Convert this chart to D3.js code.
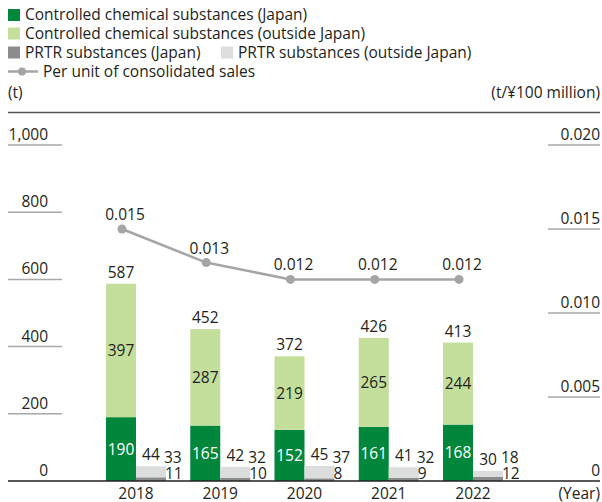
<!DOCTYPE html>
<html>
<head>
<meta charset="utf-8">
<script src="https://cdn.jsdelivr.net/npm/d3@7"></script>
<style>
  html, body { margin: 0; padding: 0; background: #fff; }
  svg { display: block; }
  text { font-family: "Open Sans", "Noto Sans", sans-serif; fill: #231f20; }
</style>
</head>
<body>
<svg id="chart" width="602" height="502"></svg>
<script>
// Fiscal years
const years = ["2018", "2019", "2020", "2021", "2022"];
// Controlled chemical substances (t)
const controlledJapan = [190, 165, 152, 161, 168];
const controlledOutside = [397, 287, 219, 265, 244];
const controlledTotal = [587, 452, 372, 426, 413];
// PRTR substances (t)
const prtrJapan = [11, 10, 8, 9, 12];
const prtrOutside = [33, 32, 37, 32, 18];
const prtrTotal = [44, 42, 45, 41, 30];
// Per unit of consolidated sales (t/¥100 million)
const perUnit = [0.015, 0.013, 0.012, 0.012, 0.012];
// Axis ticks
const leftTicks = [0, 200, 400, 600, 800, 1000];
const rightTicks = [0, 0.005, 0.010, 0.015, 0.020];

const colors = {
  cJapan: "#00873c",
  cOutside: "#c3df9b",
  pJapan: "#8c8c8c",
  pOutside: "#dcdddd",
  line: "#a5a5a5",
  grid: "#a8a8a8"
};

const svg = d3.select("#chart");
const FS = 15.5;

const baseY = 481, topY = 145;
const y = d3.scaleLinear().domain([0, 1000]).range([baseY, topY]);
const y2 = d3.scaleLinear().domain([0, 0.020]).range([baseY, topY]);

const x = d3.scaleBand().domain(years).range([106, 503])
  .paddingInner(0.288).paddingOuter(0);
const sub = d3.scaleBand().domain(["controlled", "prtr"]).range([0, x.bandwidth()]);
const bw = sub.bandwidth();

// Legend
const legend = svg.append("g");
const legendRows = [
  {label: "Controlled chemical substances (Japan)", color: colors.cJapan, x: 8, y: 15},
  {label: "Controlled chemical substances (outside Japan)", color: colors.cOutside, x: 8, y: 33.5},
  {label: "PRTR substances (Japan)", color: colors.pJapan, x: 8, y: 52.5},
  {label: "PRTR substances (outside Japan)", color: colors.pOutside, x: 221, y: 52.5}
];
legendRows.forEach(r => {
  legend.append("rect").attr("x", r.x).attr("y", r.y - 6).attr("width", 12).attr("height", 12)
    .attr("fill", r.color);
  legend.append("text").attr("x", r.x + 17).attr("y", r.y).attr("dy", "0.35em")
    .attr("font-size", FS).text(r.label);
});
legend.append("line").attr("x1", 8).attr("x2", 38).attr("y1", 71.5).attr("y2", 71.5)
  .attr("stroke", colors.line).attr("stroke-width", 2.5);
legend.append("circle").attr("cx", 22).attr("cy", 71.5).attr("r", 4).attr("fill", colors.line);
legend.append("text").attr("x", 43).attr("y", 71.5).attr("dy", "0.35em")
  .attr("font-size", FS).text("Per unit of consolidated sales");

// Units and header rule
svg.append("text").attr("x", 8).attr("y", 98).attr("font-size", FS).text("(t)");
svg.append("text").attr("x", 600).attr("y", 98).attr("font-size", FS)
  .attr("text-anchor", "end").text("(t/¥100 million)");
svg.append("line").attr("x1", 8).attr("x2", 600).attr("y1", 112.5).attr("y2", 112.5)
  .attr("stroke", "#595757").attr("stroke-width", 1.5);

// Left axis
const fmtLeft = d3.format(",");
const la = svg.append("g");
leftTicks.forEach(t => {
  if (t > 0) {
    la.append("line").attr("x1", 8).attr("x2", 62).attr("y1", y(t)).attr("y2", y(t))
      .attr("stroke", colors.grid).attr("stroke-width", 1.5);
  }
  la.append("text").attr("x", 48).attr("y", y(t) - 5).attr("text-anchor", "end")
    .attr("font-size", FS).text(fmtLeft(t));
});

// Right axis
const fmtRight = d3.format(".3f");
const ra = svg.append("g");
rightTicks.forEach(t => {
  if (t > 0) {
    ra.append("line").attr("x1", 548).attr("x2", 600).attr("y1", y2(t)).attr("y2", y2(t))
      .attr("stroke", colors.grid).attr("stroke-width", 1.5);
  }
  ra.append("text").attr("x", 600).attr("y", y2(t) - 5).attr("text-anchor", "end")
    .attr("font-size", FS).text(t === 0 ? "0" : fmtRight(t));
});

// Bars
const bars = svg.append("g");
years.forEach((yr, i) => {
  const gx = x(yr);
  const cx = gx + sub("controlled");
  const px = gx + sub("prtr");

  // Controlled: Japan below, outside Japan stacked above
  const cj = controlledJapan[i], co = controlledOutside[i];
  bars.append("rect").attr("x", cx).attr("width", bw)
    .attr("y", y(cj)).attr("height", y(0) - y(cj)).attr("fill", colors.cJapan);
  bars.append("rect").attr("x", cx).attr("width", bw)
    .attr("y", y(cj + co)).attr("height", y(cj) - y(cj + co)).attr("fill", colors.cOutside);
  bars.append("text").attr("x", cx + bw / 2).attr("y", (y(0) + y(cj)) / 2).attr("dy", "0.35em")
    .attr("text-anchor", "middle").attr("font-size", FS).style("fill", "#fff").text(cj);
  bars.append("text").attr("x", cx + bw / 2).attr("y", (y(cj) + y(cj + co)) / 2).attr("dy", "0.35em")
    .attr("text-anchor", "middle").attr("font-size", FS).text(co);
  bars.append("text").attr("x", cx + bw / 2).attr("y", y(cj + co) - 6)
    .attr("text-anchor", "middle").attr("font-size", FS).text(controlledTotal[i]);

  // PRTR: Japan below, outside Japan stacked above
  const pj = prtrJapan[i], po = prtrOutside[i];
  bars.append("rect").attr("x", px).attr("width", bw)
    .attr("y", y(pj)).attr("height", y(0) - y(pj)).attr("fill", colors.pJapan);
  bars.append("rect").attr("x", px).attr("width", bw)
    .attr("y", y(pj + po)).attr("height", y(pj) - y(pj + po)).attr("fill", colors.pOutside);
  bars.append("text").attr("x", px + bw / 2).attr("y", y(pj + po) - 6)
    .attr("text-anchor", "middle").attr("font-size", FS).text(prtrTotal[i]);
  bars.append("text").attr("x", px + bw - 2).attr("y", 462.5)
    .attr("font-size", FS).text(po);
  bars.append("text").attr("x", px + bw - 1).attr("y", 479)
    .attr("font-size", FS).text(pj);
});

// Baseline
svg.append("line").attr("x1", 8).attr("x2", 600).attr("y1", baseY).attr("y2", baseY)
  .attr("stroke", "#231f20").attr("stroke-width", 1.5);

// Year labels
years.forEach(yr => {
  svg.append("text").attr("x", x(yr) + x.bandwidth() / 2).attr("y", 499)
    .attr("text-anchor", "middle").attr("font-size", FS).text(yr);
});
svg.append("text").attr("x", 600).attr("y", 499).attr("text-anchor", "end")
  .attr("font-size", FS).text("(Year)");

// Per-unit line, plotted over the controlled-substance bars
const lx = (d, i) => x(years[i]) + sub("controlled") + bw / 2 + 1;
const line = d3.line().x(lx).y(d => y2(d));
svg.append("path").datum(perUnit).attr("d", line)
  .attr("fill", "none").attr("stroke", colors.line).attr("stroke-width", 2.5);
svg.selectAll(".pt").data(perUnit).enter().append("circle")
  .attr("cx", lx).attr("cy", d => y2(d)).attr("r", 4.5).attr("fill", colors.line);
svg.selectAll(".ptl").data(perUnit).enter().append("text")
  .attr("x", (d, i) => lx(d, i) + 3).attr("y", d => y2(d) - 9)
  .attr("text-anchor", "middle").attr("font-size", FS).text(d => fmtRight(d));
</script>
</body>
</html>
